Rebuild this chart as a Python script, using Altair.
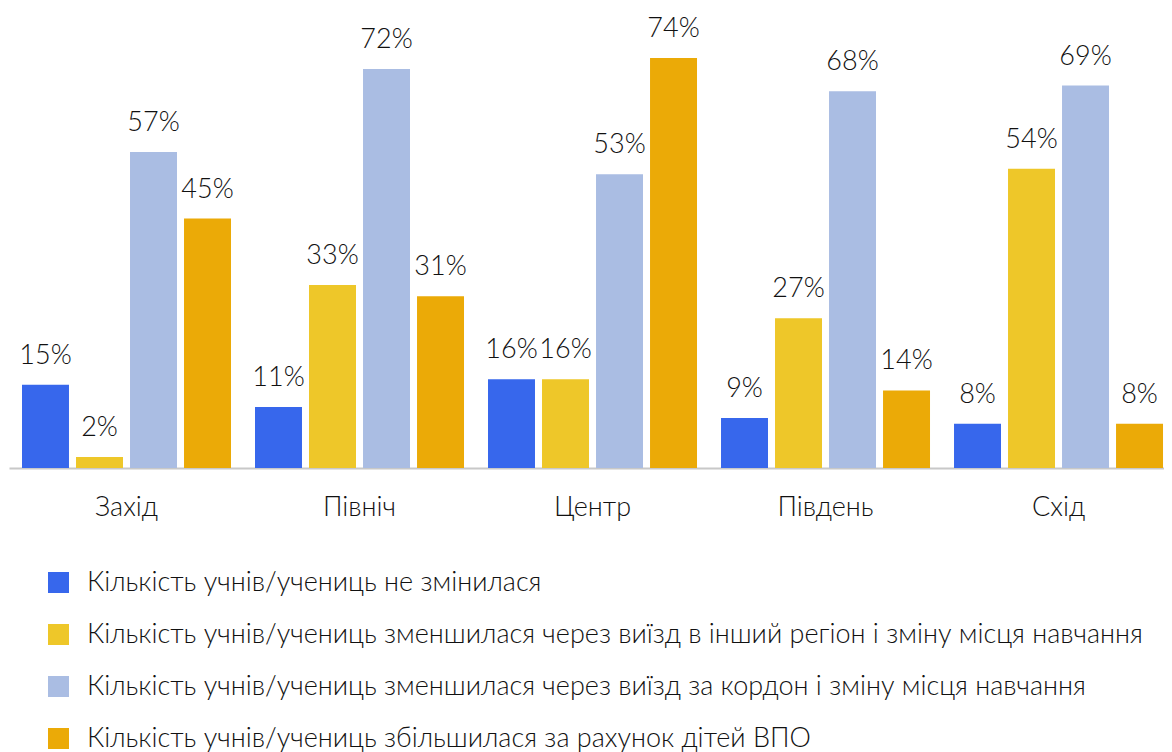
import altair as alt
import pandas as pd

regions = ["Захід", "Північ", "Центр", "Південь", "Схід"]
series = [
    "Кількість учнів/учениць не змінилася",
    "Кількість учнів/учениць зменшилася через виїзд в інший регіон і зміну місця навчання",
    "Кількість учнів/учениць зменшилася через виїзд за кордон і зміну місця навчання",
    "Кількість учнів/учениць збільшилася за рахунок дітей ВПО",
]
s_unchanged = [15, 11, 16, 9, 8]
s_other_region = [2, 33, 16, 27, 54]
s_abroad = [57, 72, 53, 68, 69]
s_idp = [45, 31, 74, 14, 8]
colors = ["#3767EC", "#EEC729", "#AABDE3", "#EBAA07"]

rows = []
for name, vals in zip(series, [s_unchanged, s_other_region, s_abroad, s_idp]):
    for r, v in zip(regions, vals):
        rows.append({"region": r, "series": name, "value": v, "label": f"{v}%"})
df = pd.DataFrame(rows)

FONT = "Lato"
TXT = "#111111"
W = 300

base = alt.Chart(df).encode(
    x=alt.X(
        "region:N",
        sort=regions,
        scale=alt.Scale(paddingInner=0.103, paddingOuter=0.030, align=0.93),
        axis=alt.Axis(
            title=None, labelAngle=0, ticks=False, domainColor="#c8c8c8",
            domainWidth=2, labelFontSize=27, labelColor=TXT, labelPadding=26,
            labelFont=FONT, labelFontWeight=W,
        ),
    ),
    xOffset=alt.XOffset("series:N", sort=series,
                        scale=alt.Scale(domain=series, paddingInner=0.13, paddingOuter=0)),
    y=alt.Y("value:Q", scale=alt.Scale(domain=[0, 83], nice=False, zero=True), axis=None),
)

bars = base.mark_bar(strokeWidth=0).encode(
    color=alt.Color(
        "series:N",
        sort=series,
        scale=alt.Scale(domain=series, range=colors),
        legend=alt.Legend(
            orient="none", legendX=36, legendY=561, direction="vertical",
            title=None, symbolType="square", symbolSize=441, symbolStrokeWidth=0,
            labelFontSize=27, labelFont=FONT, labelFontWeight=W, labelColor=TXT,
            labelLimit=2000, rowPadding=24, labelOffset=15, padding=0,
        ),
    )
)

text = base.mark_text(baseline="alphabetic", dy=-21, fontSize=27, font=FONT,
                      fontWeight=W, color=TXT).encode(text="label:N")

chart = (
    alt.layer(bars, text)
    .properties(width=1155, height=460, padding={"left": 1, "top": 0, "right": 0, "bottom": 0})
    .configure_view(stroke=None)
)

chart.save("out.html", embed_options={"renderer": "svg", "actions": False})
